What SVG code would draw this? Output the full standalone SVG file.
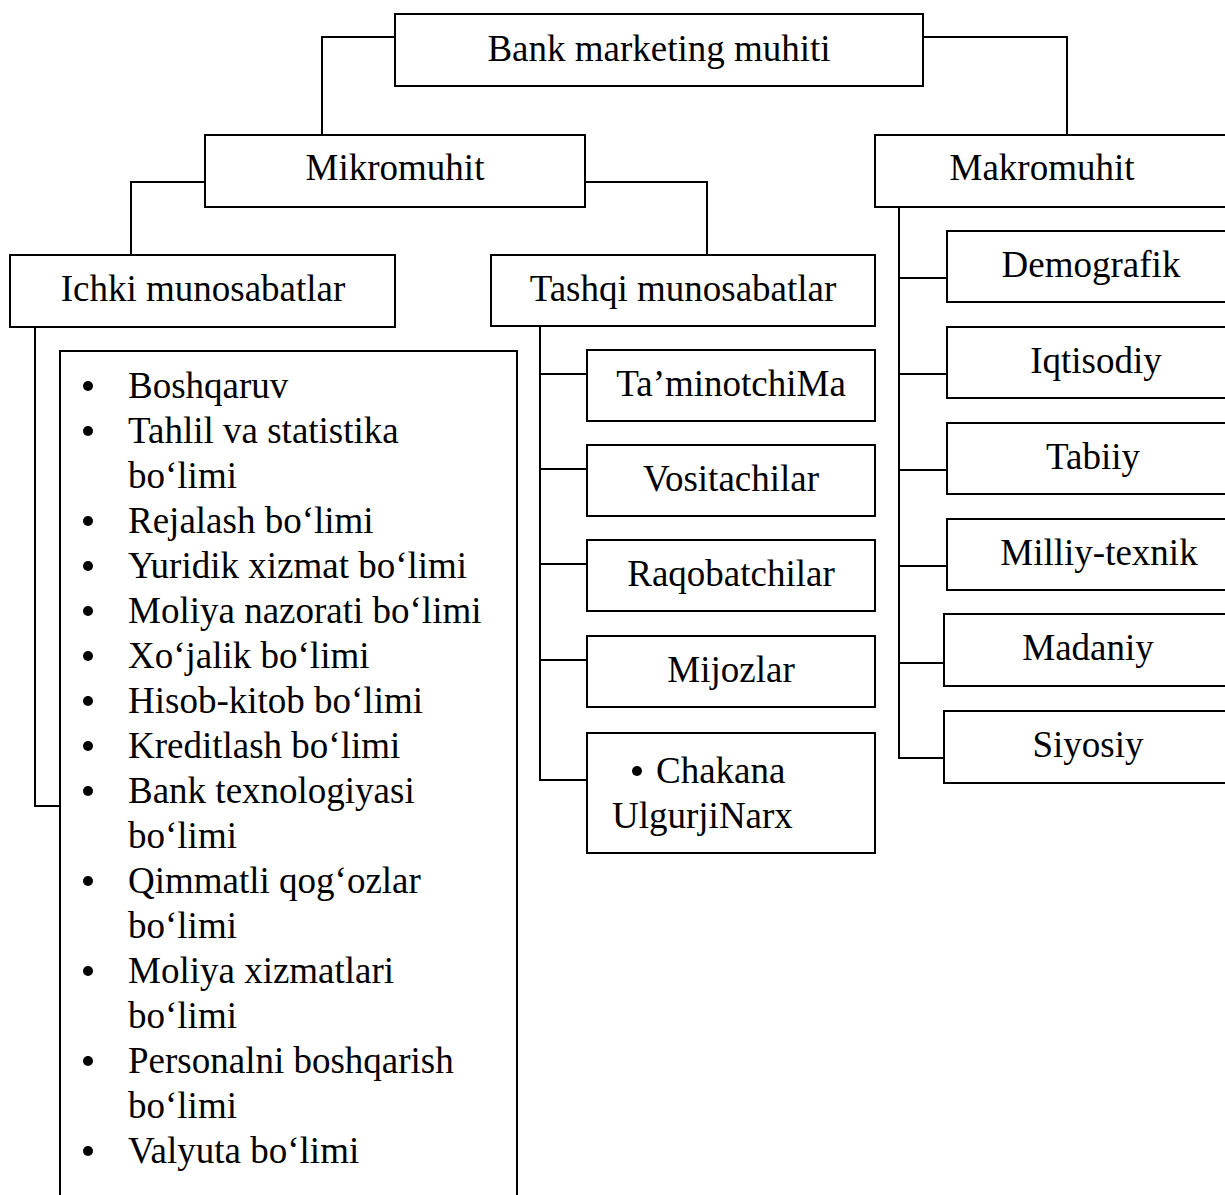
<svg xmlns="http://www.w3.org/2000/svg" width="1225" height="1195" viewBox="0 0 1225 1195">
  <style>
    .box { fill: #ffffff; stroke: #000000; stroke-width: 2; }
    .wire { fill: none; stroke: #000000; stroke-width: 2; }
    text { font-family: "Liberation Serif", "Times New Roman", serif; font-size: 37px; fill: #000000; }
    .c { text-anchor: middle; }
  </style>
  <rect width="1225" height="1195" fill="#ffffff"/>

  <!-- connectors -->
  <g id="connectors">
    <path class="wire" d="M395 37 H322 V135"/>
    <path class="wire" d="M923 37 H1067 V135"/>
    <path class="wire" d="M205 182 H131 V255"/>
    <path class="wire" d="M585 182 H707 V255"/>
    <path class="wire" d="M35 327 V806 H60"/>
    <path class="wire" d="M540 326 V780 H587 M540 374 H587 M540 469 H587 M540 564 H587 M540 660 H587"/>
    <path class="wire" d="M899 207 V758 H944 M899 278 H947 M899 374 H947 M899 470 H947 M899 566 H947 M899 663 H944"/>
  </g>

  <g id="root">
    <rect class="box" x="395" y="14" width="528" height="72"/>
    <text class="c" x="659" y="61">Bank marketing muhiti</text>
  </g>
  <g id="mikromuhit">
    <rect class="box" x="205" y="135" width="380" height="72"/>
    <text class="c" x="395" y="180">Mikromuhit</text>
  </g>
  <g id="makromuhit">
    <rect class="box" x="875" y="135" width="360" height="72"/>
    <text class="c" x="1042" y="180">Makromuhit</text>
  </g>
  <g id="ichki">
    <rect class="box" x="10" y="255" width="385" height="72"/>
    <text class="c" x="203" y="301">Ichki munosabatlar</text>
  </g>
  <g id="tashqi">
    <rect class="box" x="491" y="255" width="384" height="71"/>
    <text class="c" x="683" y="301">Tashqi munosabatlar</text>
  </g>

  <!-- internal departments list -->
  <g id="ichki-list">
    <path class="wire" d="M60 1196 V351 H517 V1196"/>
    <g fill="#000000">
      <circle cx="88" cy="386" r="5"/>
      <circle cx="88" cy="431" r="5"/>
      <circle cx="88" cy="521" r="5"/>
      <circle cx="88" cy="566" r="5"/>
      <circle cx="88" cy="611" r="5"/>
      <circle cx="88" cy="656" r="5"/>
      <circle cx="88" cy="701" r="5"/>
      <circle cx="88" cy="746" r="5"/>
      <circle cx="88" cy="791" r="5"/>
      <circle cx="88" cy="881" r="5"/>
      <circle cx="88" cy="971" r="5"/>
      <circle cx="88" cy="1061" r="5"/>
      <circle cx="88" cy="1151" r="5"/>
    </g>
    <text x="128" y="398">Boshqaruv</text>
    <text x="128" y="443">Tahlil va statistika</text>
    <text x="128" y="488">bo‘limi</text>
    <text x="128" y="533">Rejalash bo‘limi</text>
    <text x="128" y="578">Yuridik xizmat bo‘limi</text>
    <text x="128" y="623">Moliya nazorati bo‘limi</text>
    <text x="128" y="668">Xo‘jalik bo‘limi</text>
    <text x="128" y="713">Hisob-kitob bo‘limi</text>
    <text x="128" y="758">Kreditlash bo‘limi</text>
    <text x="128" y="803">Bank texnologiyasi</text>
    <text x="128" y="848">bo‘limi</text>
    <text x="128" y="893">Qimmatli qog‘ozlar</text>
    <text x="128" y="938">bo‘limi</text>
    <text x="128" y="983">Moliya xizmatlari</text>
    <text x="128" y="1028">bo‘limi</text>
    <text x="128" y="1073">Personalni boshqarish</text>
    <text x="128" y="1118">bo‘limi</text>
    <text x="128" y="1163">Valyuta bo‘limi</text>
  </g>

  <!-- external relations -->
  <g id="taminotchi">
    <rect class="box" x="587" y="350" width="288" height="71"/>
    <text class="c" x="731" y="396">Ta’minotchiMa</text>
  </g>
  <g id="vositachilar">
    <rect class="box" x="587" y="445" width="288" height="71"/>
    <text class="c" x="731" y="491">Vositachilar</text>
  </g>
  <g id="raqobatchilar">
    <rect class="box" x="587" y="540" width="288" height="71"/>
    <text class="c" x="731" y="586">Raqobatchilar</text>
  </g>
  <g id="mijozlar">
    <rect class="box" x="587" y="636" width="288" height="71"/>
    <text class="c" x="731" y="682">Mijozlar</text>
  </g>
  <g id="narx">
    <rect class="box" x="587" y="733" width="288" height="120"/>
    <circle cx="637" cy="771" r="5" fill="#000000"/>
    <text x="656" y="783">Chakana</text>
    <text x="612" y="828">UlgurjiNarx</text>
  </g>

  <!-- macro environment factors -->
  <g id="demografik">
    <rect class="box" x="947" y="231" width="290" height="71"/>
    <text class="c" x="1091" y="277">Demografik</text>
  </g>
  <g id="iqtisodiy">
    <rect class="box" x="947" y="327" width="290" height="71"/>
    <text class="c" x="1096" y="373">Iqtisodiy</text>
  </g>
  <g id="tabiiy">
    <rect class="box" x="947" y="423" width="290" height="71"/>
    <text class="c" x="1093" y="469">Tabiiy</text>
  </g>
  <g id="milliy-texnik">
    <rect class="box" x="947" y="519" width="290" height="71"/>
    <text class="c" x="1099" y="565">Milliy-texnik</text>
  </g>
  <g id="madaniy">
    <rect class="box" x="944" y="614" width="293" height="72"/>
    <text class="c" x="1088" y="660">Madaniy</text>
  </g>
  <g id="siyosiy">
    <rect class="box" x="944" y="711" width="293" height="72"/>
    <text class="c" x="1088" y="757">Siyosiy</text>
  </g>
</svg>
